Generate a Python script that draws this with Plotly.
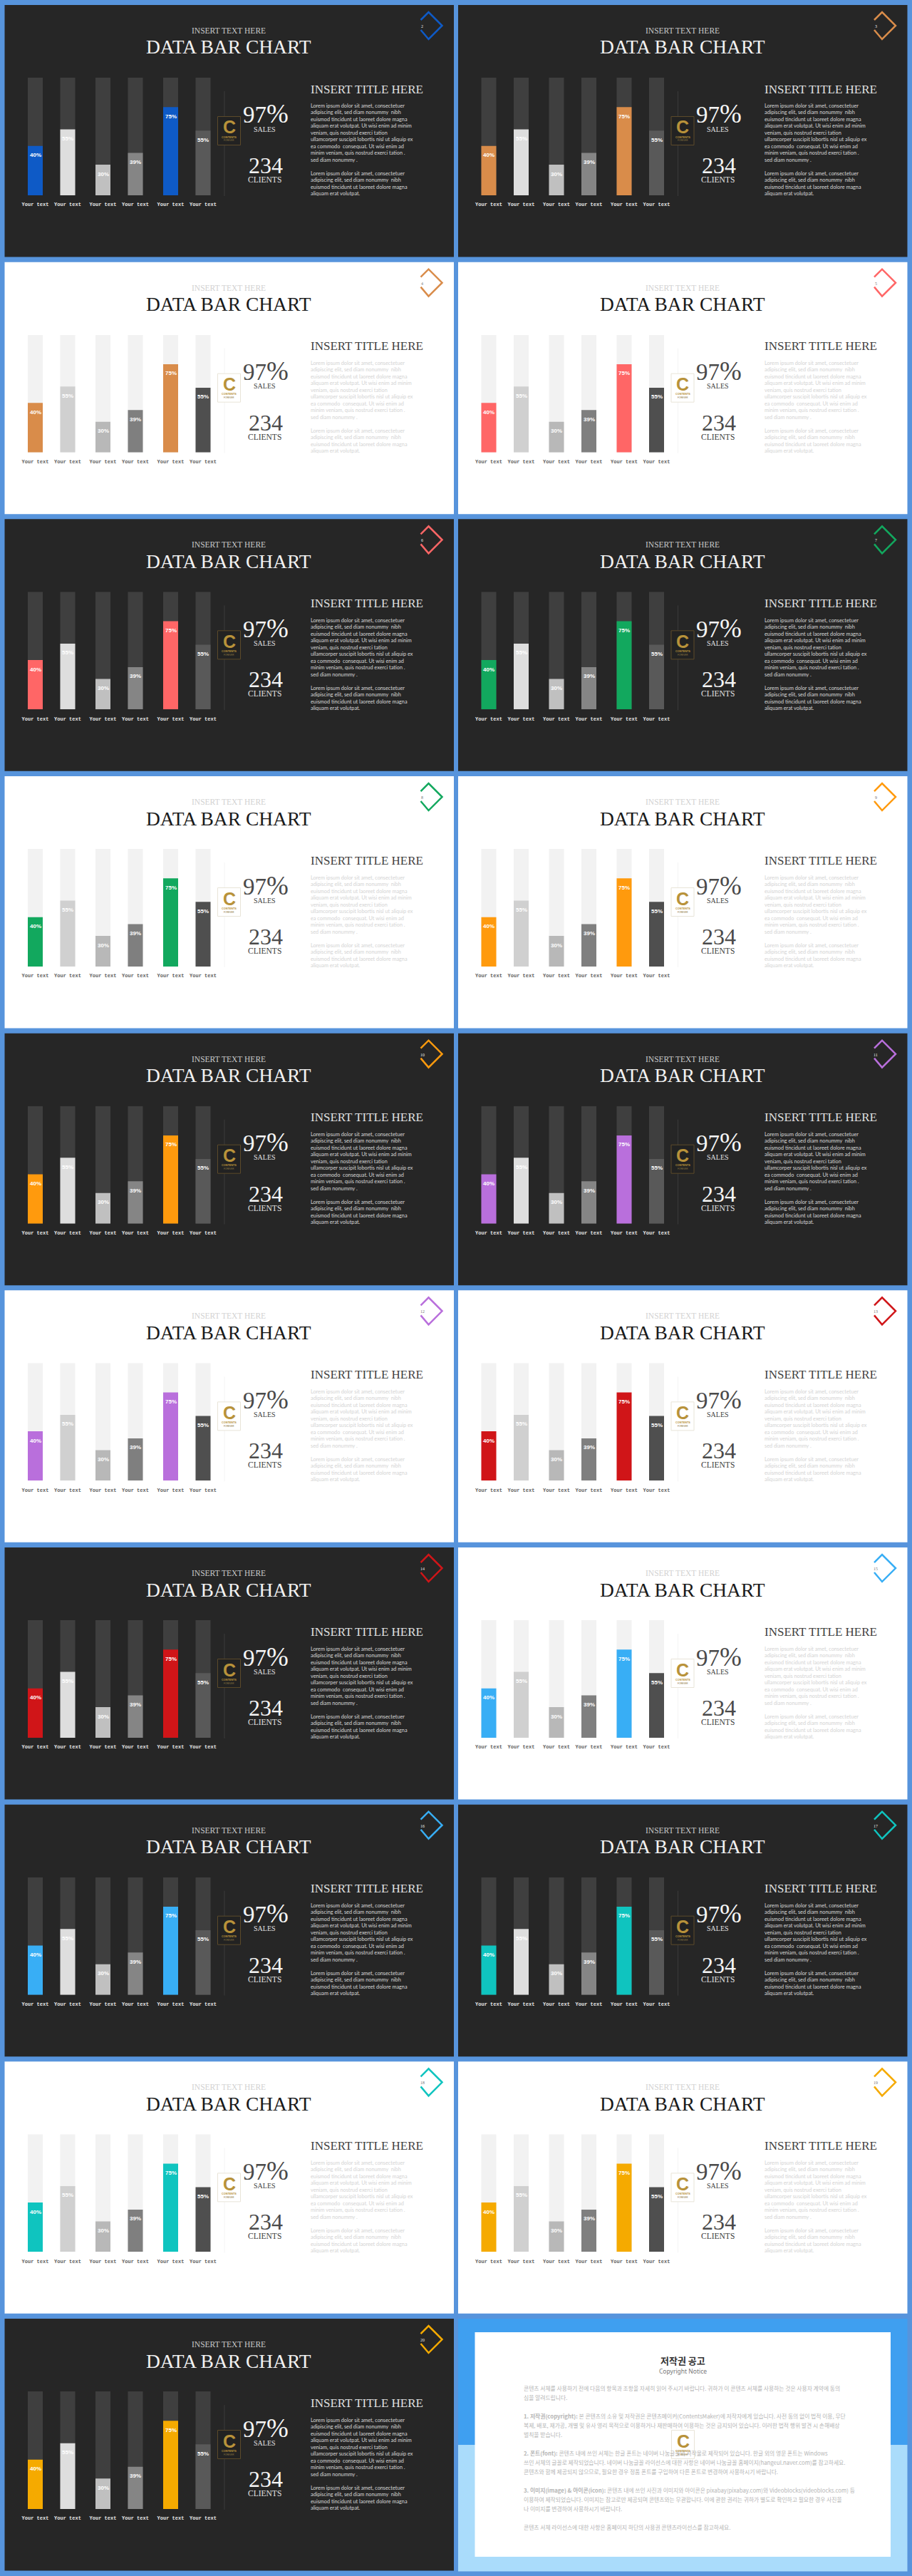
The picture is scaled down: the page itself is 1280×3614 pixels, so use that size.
import plotly.graph_objects as go

CATEGORIES = ["Your text"] * 6
FILL_VALUES = [42, 56, 26, 36, 75, 55]
VALUE_LABELS = ["40%", "55%", "30%", "39%", "75%", "55%"]
TRACK_VALUES = [100] * 6

# slides in reading order: accent colour and theme
SLIDE_ACCENTS = [
    "#0e5ac6", "#d98c4a", "#d98c4a", "#ff6666", "#ff6666", "#12a85e", "#12a85e",
    "#ff9a0d", "#ff9a0d", "#b96fdc", "#b96fdc", "#d01518", "#d01518", "#38aef5",
    "#38aef5", "#0fc4bf", "#0fc4bf", "#f5aa00", "#f5aa00",
]
SLIDE_THEMES = [
    "dark", "dark", "light", "light", "dark", "dark", "light", "light", "dark", "dark",
    "light", "light", "dark", "light", "dark", "dark", "light", "light", "dark",
]
FIRST_PAGE = 2

BODY_LINES = [
    "Lorem ipsum dolor sit amet, consectetuer",
    "adipiscing elit, sed diam nonummy  nibh",
    "euismod tincidunt ut laoreet dolore magna",
    "aliquam erat volutpat. Ut wisi enim ad minim",
    "veniam, quis nostrud exerci tation",
    "ullamcorper suscipit lobortis nisl ut aliquip ex",
    "ea commodo  consequat. Ut wisi enim ad",
    "minim veniam, quis nostrud exerci tation .",
    "sed diam nonummy .",
    "",
    "Lorem ipsum dolor sit amet, consectetuer",
    "adipiscing elit, sed diam nonummy  nibh",
    "euismod tincidunt ut laoreet dolore magna",
    "aliquam erat volutpat.",
]

NOTICE_TITLE = "저작권 공고"
NOTICE_SUBTITLE = "Copyright Notice"
NOTICE_LINES = [
    "콘텐츠 서체를 사용하기 전에 다음의 항목과 조항을 자세히 읽어 주시기 바랍니다. 귀하가 이 콘텐츠 서체를 사용하는 것은 사용자 계약에 동의",
    "심을 알려드립니다.",
    "",
    "<b>1. 저작권(copyright):</b> 본 콘텐츠의 소유 및 저작권은 콘텐츠메이커(ContentsMaker)에 저작자에게 있습니다. 사전 동의 없이 법적 이용, 무단",
    "복제, 배포, 재가공, 개별 및 유사 영리 목적으로 이용하거나 재판매하여 이용하는 것은 금지되어 있습니다. 이러한 법적 행위 발견 시 손해배상",
    "벌칙을 받습니다.",
    "",
    "<b>2. 폰트(font):</b> 콘텐츠 내에 쓰인 서체는 한글 폰트는 네이버 나눔글꼴의 저작물로 제작되어 있습니다. 한글 외의 영문 폰트는 Windows",
    "쓰인 서체의 글꼴로 제작되었습니다. 네이버 나눔글꼴 라이선스에 대한 사항은 네이버 나눔글꼴 홈페이지(hangeul.naver.com)를 참고하세요.",
    "콘텐츠와 함께 제공되지 않으므로, 필요한 경우 정품 폰트를 구입하여 다른 폰트로 변경하여 사용하시기 바랍니다.",
    "",
    "<b>3. 이미지(image) & 아이콘(icon):</b> 콘텐츠 내에 쓰인 사진과 이미지와 아이콘은 pixabay(pixabay.com)와 Videoblocks(videoblocks.com) 등",
    "이용하여 제작되었습니다. 이미지는 참고로만 제공되며 콘텐츠와는 무관합니다. 이에 관한 권리는 귀하가 별도로 확인하고 필요한 경우 사진을",
    "나 이미지를 변경하여 사용하시기 바랍니다.",
    "",
    "콘텐츠 서체 라이선스에 대한 사항은 홈페이지 하단의 사용권 콘텐츠라이선스를 참고하세요.",
]

WIDTH = 1280
HEIGHT = 3614
FRAME_BLUE = "#5794dc"
COL_LEFT = [6.5, 643]
PANEL_W = 630.5
PANEL_H = 353.5
ROW_STEP = 360.67
TOP = 7

# bar centres in px from the first bar, pairs sit a bit closer together
BAR_OFFSETS = [0, 45.5, 95, 140.5, 190, 235.5]
BAR_W = 21

THEMES = {
    "dark": dict(
        bg="#262626", track="#3f3f3f", fills=["#dedede", "#c0c0c0", "#858585", "#595959"],
        title="#f2f2f2", kicker="#c8c8c8", heading="#e0e0e0", number="#f5f5f5",
        body="#d6d6d6", tick="#e6e6e6", rule="#3a3a3a", logo_bg="#222222", logo_line="#5c4a2a",
        page="#e6e6e6",
    ),
    "light": dict(
        bg="#ffffff", track="#f2f2f2", fills=["#d0d0d0", "#b8b8b8", "#7f7f7f", "#4f4f4f"],
        title="#1a1a1a", kicker="#d2d2d2", heading="#404040", number="#4a4a4a",
        body="#d4d4d4", tick="#606060", rule="#f4f4f4", logo_bg="#ffffff", logo_line="#e8e4d8",
        page="#777777",
    ),
}

SERIF = "Liberation Serif"


def px_x(x):
    return x / WIDTH


def px_y(y):
    return 1 - y / HEIGHT


def note(fig, x, y, text, size, color, family=SERIF, align="center", **kw):
    fig.add_annotation(
        x=px_x(x), y=px_y(y), xref="paper", yref="paper", text=text, showarrow=False,
        font=dict(family=family, size=size, color=color), align=align,
        xanchor=align, yanchor="middle", borderpad=0, **kw,
    )


def logo(fig, cx, cy, bg, line):
    fig.add_shape(
        type="rect", xref="paper", yref="paper", x0=px_x(cx - 16), x1=px_x(cx + 16),
        y0=px_y(cy - 20), y1=px_y(cy + 20), fillcolor=bg, line=dict(color=line, width=1),
    )
    note(fig, cx, cy - 5, "<b>C</b>", 25, "#b8923a", family="Liberation Sans")
    note(fig, cx, cy + 9, "<b>CONTENTS</b>", 3.8, "#b8923a", family="Liberation Sans")
    note(fig, cx, cy + 14, "FOREVER", 3, "#8a7440", family="Liberation Sans")


def add_slide(fig, n, accent, theme):
    row, col = divmod(n, 2)
    left = COL_LEFT[col]
    top = TOP + ROW_STEP * row
    t = THEMES[theme]

    fig.add_shape(
        type="rect", xref="paper", yref="paper", layer="below",
        x0=px_x(left), x1=px_x(left + PANEL_W), y0=px_y(top), y1=px_y(top + PANEL_H),
        fillcolor=t["bg"], line_width=0,
    )

    # corner icon, a diamond left open on its left side
    ix = left + 598
    iy = top + 29
    pts = [(-14, 6), (-3, 19), (16, 0), (-3, -19), (-14, -8)]
    path = "M" + " L".join(f"{px_x(ix + a)} {px_y(iy + b)}" for a, b in pts)
    fig.add_shape(
        type="path", xref="paper", yref="paper", path=path,
        line=dict(color=accent, width=2.5),
    )
    note(fig, ix - 12, iy + 1, str(FIRST_PAGE + n), 6, t["page"])

    note(fig, left + 314.5, top + 36, "INSERT TEXT HERE", 11.5, t["kicker"])
    note(fig, left + 314.5, top + 59, "DATA BAR CHART", 27.5, t["title"])

    # the bars, each slide has its own pair of axes
    suffix = "" if n == 0 else str(n + 1)
    colors = [accent, t["fills"][0], t["fills"][1], t["fills"][2], accent, t["fills"][3]]
    fig.add_bar(
        x=BAR_OFFSETS, y=TRACK_VALUES, width=BAR_W, xaxis=f"x{suffix}", yaxis=f"y{suffix}",
        marker=dict(color=t["track"], line_width=0), hoverinfo="skip",
    )
    fig.add_bar(
        x=BAR_OFFSETS, y=FILL_VALUES, width=BAR_W, xaxis=f"x{suffix}", yaxis=f"y{suffix}",
        marker=dict(color=colors, line_width=0),
    )
    for x, y, label in zip(BAR_OFFSETS, FILL_VALUES, VALUE_LABELS):
        fig.add_annotation(
            x=x, y=y, xref=f"x{suffix}", yref=f"y{suffix}", text=f"<b>{label}</b>",
            showarrow=False, yshift=-13,
            font=dict(family="Liberation Sans", size=8, color="#ffffff"),
        )
    first = left + 43
    fig.update_layout({
        f"xaxis{suffix}": dict(
            domain=[px_x(first - 13), px_x(first + 248.5)], range=[-13, 248.5],
            tickvals=BAR_OFFSETS, ticktext=CATEGORIES, tickangle=0,
            tickfont=dict(family="Liberation Mono", size=7, color=t["tick"], weight="bold"),
            showgrid=False, zeroline=False, showline=False, ticks="outside", ticklen=6,
            tickcolor="rgba(0,0,0,0)", anchor=f"y{suffix}", fixedrange=True,
        ),
        f"yaxis{suffix}": dict(
            domain=[px_y(top + 267), px_y(top + 102)], range=[0, 100], visible=False,
            anchor=f"x{suffix}", fixedrange=True,
        ),
    })

    fig.add_shape(
        type="line", xref="paper", yref="paper", x0=px_x(left + 308.5), x1=px_x(left + 308.5),
        y0=px_y(top + 121), y1=px_y(top + 268), line=dict(color=t["rule"], width=1),
    )
    logo(fig, left + 315, top + 176.5, t["logo_bg"], t["logo_line"])

    note(fig, left + 366, top + 153,
         '97<span style="font-size:37px">%</span>', 33, t["number"])
    note(fig, left + 364.5, top + 174, "SALES", 10, t["heading"])
    note(fig, left + 366, top + 225, "234", 32, t["number"])
    note(fig, left + 364.5, top + 245, "CLIENTS", 11.5, t["heading"])

    note(fig, left + 428.5, top + 118, "INSERT TITLE HERE", 17, t["heading"], align="left")
    note(fig, left + 428.5, top + 203.5, "<br>".join(BODY_LINES), 7.3, t["body"],
         family="Lato", align="left")


def add_notice(fig, n):
    row, col = divmod(n, 2)
    left = COL_LEFT[col]
    top = TOP + ROW_STEP * row
    rects = [
        (left, left + PANEL_W, top, 3430, "#3f9ff0"),
        (left, left + PANEL_W, 3430, top + PANEL_H + 1, "#aadcfb"),
        (666.5, 1250, 3272, 3587, "#ffffff"),
    ]
    for x0, x1, y0, y1, color in rects:
        fig.add_shape(
            type="rect", xref="paper", yref="paper", layer="below",
            x0=px_x(x0), x1=px_x(x1), y0=px_y(y0), y1=px_y(y1), fillcolor=color, line_width=0,
        )
    note(fig, 958, 3311, f"<b>{NOTICE_TITLE}</b>", 13, "#333333", family="Noto Sans CJK KR")
    note(fig, 958, 3326, NOTICE_SUBTITLE, 8.5, "#777777", family="Noto Sans")
    # the line pitch here is wider than plotly's own <br> spacing
    for k, line in enumerate(NOTICE_LINES):
        if line:
            note(fig, 734, 3350 + 13 * k, line, 7.8, "#b5b5b5",
                 family="Noto Sans CJK KR", align="left")
    logo(fig, 958.5, 3429.5, "#ffffff", "#e8e4d8")


fig = go.Figure()
for i, (accent, theme) in enumerate(zip(SLIDE_ACCENTS, SLIDE_THEMES)):
    add_slide(fig, i, accent, theme)
add_notice(fig, len(SLIDE_ACCENTS))

fig.update_layout(
    width=WIDTH,
    height=HEIGHT,
    margin=dict(l=0, r=0, t=0, b=0, autoexpand=False),
    paper_bgcolor=FRAME_BLUE,
    plot_bgcolor="rgba(0,0,0,0)",
    barmode="overlay",
    showlegend=False,
)

fig.write_html("out.html", config={"displayModeBar": False},
               post_script="document.body.style.margin='0';")
